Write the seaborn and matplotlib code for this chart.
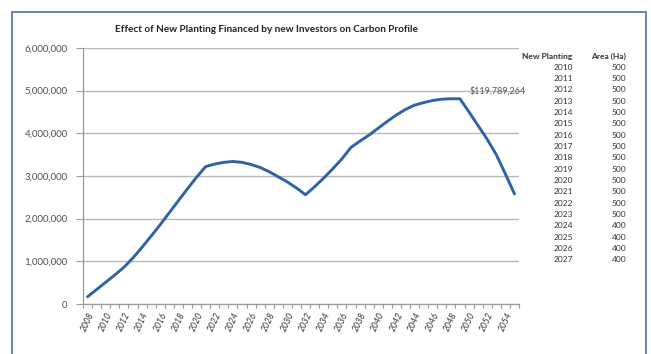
import matplotlib
matplotlib.use("Agg")
import matplotlib.pyplot as plt
from matplotlib.patches import Rectangle
from matplotlib.ticker import FuncFormatter, MultipleLocator, FixedLocator
import seaborn as sns
import pandas as pd

# Carbon profile per year (tonnes)
years = list(range(2008, 2056))
carbon = [
    170000, 340000, 510000, 680000, 860000, 1080000, 1330000, 1590000,
    1860000, 2140000, 2420000, 2700000, 2970000, 3220000, 3280000, 3320000,
    3340000, 3320000, 3270000, 3200000, 3100000, 2980000, 2860000, 2720000,
    2560000, 2750000, 2950000, 3170000, 3400000, 3670000, 3820000, 3960000,
    4120000, 4280000, 4430000, 4560000, 4660000, 4720000, 4770000, 4800000,
    4810000, 4810000, 4500000, 4180000, 3860000, 3500000, 3050000, 2580000,
]

# New planting schedule
planting_years = list(range(2010, 2028))
planting_area = [500] * 14 + [400] * 4

total_label = "$119,789,264"
title = "Effect of New Planting Financed by new Investors on Carbon Profile"

df = pd.DataFrame({"year": years, "carbon": carbon})

sns.set_theme(style="white")
plt.rcParams["font.family"] = ["Lato", "DejaVu Sans"]

W, H = 651, 354
fig = plt.figure(figsize=(W / 100, H / 100), dpi=100)
fig.patch.set_facecolor("white")

# Chart area border
fig.patches.append(Rectangle((12 / W, -0.05), (646 - 12) / W, 1 - 12 / H + 0.05,
                             transform=fig.transFigure, fill=False,
                             edgecolor="#5b7db3", linewidth=1.3))

ax = fig.add_axes([83 / W, 1 - 304 / H, (519 - 83) / W, (304 - 48) / H])
sns.lineplot(data=df, x="year", y="carbon", ax=ax, color="#2f62a6",
             linewidth=2.1, legend=False)

ax.set_xlim(2007.5, 2055.5)
ax.set_ylim(0, 6000000)
ax.yaxis.set_major_locator(MultipleLocator(1000000))
ax.yaxis.set_major_formatter(FuncFormatter(lambda v, p: f"{int(v):,}"))
ax.grid(axis="y", color="#b8b8b8", linewidth=1.0)
ax.set_axisbelow(True)

ax.xaxis.set_major_locator(FixedLocator(years[::2]))
ax.xaxis.set_minor_locator(FixedLocator([y - 0.5 for y in years] + [years[-1] + 0.5]))
ax.set_xticklabels([str(y) for y in years[::2]], rotation=65, ha="right",
                   rotation_mode="anchor", fontsize=6.2, color="#333333",
                   fontstyle="italic")
ax.tick_params(axis="x", which="major", length=0, pad=5)
ax.tick_params(axis="x", which="minor", length=3, color="#999999", width=0.8,
               direction="out", bottom=True)
ax.tick_params(axis="y", length=5, color="#999999", width=0.8, labelsize=7,
               labelcolor="#505050", left=True, pad=6)

for s in ["top", "right"]:
    ax.spines[s].set_visible(False)
for s in ["left", "bottom"]:
    ax.spines[s].set_color("#999999")
    ax.spines[s].set_linewidth(0.9)

ax.set_xlabel("")
ax.set_ylabel("")

ax.text(2053.2, 5000000, total_label, ha="center", va="center",
        fontsize=6.5, color="#555555")

fig.text(266 / W, 1 - 30 / H, title, ha="center", va="center",
         fontsize=7.2, fontweight="bold", color="#222222")

# Planting table
fig.text(572 / W, 1 - 56 / H, "New Planting", ha="right", va="center",
         fontsize=6, fontweight="bold", color="#333333")
fig.text(626 / W, 1 - 56 / H, "Area (Ha)", ha="right", va="center",
         fontsize=6, fontweight="bold", color="#333333")
for i, (py, pa) in enumerate(zip(planting_years, planting_area)):
    yy = 1 - (67.3 + i * 11.33) / H
    fig.text(573 / W, yy, str(py), ha="right", va="center", fontsize=6,
             color="#333333")
    fig.text(626 / W, yy, str(pa), ha="right", va="center", fontsize=6,
             color="#333333")

fig.savefig("out.png", dpi=100)
